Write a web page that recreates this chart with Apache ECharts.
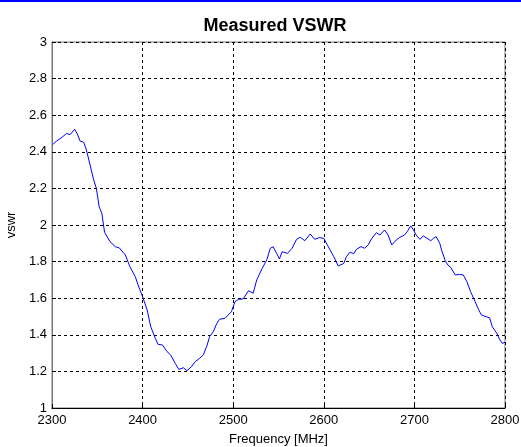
<!DOCTYPE html>
<html>
<head>
<meta charset="utf-8">
<script src="https://cdn.jsdelivr.net/npm/echarts@6/dist/echarts.min.js"></script>
<style>
  html, body { margin: 0; padding: 0; background: #fff; }
  #chart { width: 521px; height: 447px; }
</style>
</head>
<body>
<div id="chart"></div>
<script>
// frequency points (MHz)
var freq = [
  2301,2305,2311,2316,2320,2325,2328,2331,2335,2338,
  2342,2346,2349,2352,2355,2358,2364,2370,2374,2381,
  2386,2392,2395,2400,2405,2409,2414,2417,2422,2427,
  2431,2436,2440,2445,2449,2454,2458,2463,2467,2471,
  2474,2478,2482,2485,2491,2498,2502,2506,2511,2517,
  2522,2526,2532,2537,2541,2544,2548,2551,2554,2556,
  2560,2565,2570,2574,2579,2585,2590,2595,2600,2605,
  2611,2616,2622,2625,2629,2633,2636,2641,2645,2649,
  2653,2658,2662,2667,2671,2675,2680,2684,2689,2692,
  2696,2699,2702,2706,2710,2714,2718,2721,2724,2728,
  2730,2734,2737,2740,2745,2750,2754,2758,2762,2767,
  2771,2774,2779,2783,2786,2791,2794,2797,2800
];
// measured vswr at each frequency
var vswr = [
  2.441,2.459,2.479,2.50,2.494,2.523,2.497,2.459,2.452,2.41,
  2.328,2.246,2.20,2.10,2.064,1.96,1.909,1.881,1.876,1.836,
  1.772,1.717,1.672,1.608,1.536,1.444,1.381,1.348,1.344,1.308,
  1.29,1.244,1.211,1.22,1.204,1.226,1.253,1.272,1.29,1.34,
  1.39,1.417,1.463,1.485,1.49,1.526,1.581,1.594,1.596,1.641,
  1.627,1.70,1.763,1.809,1.873,1.881,1.845,1.814,1.854,1.863,
  1.845,1.873,1.922,1.933,1.914,1.951,1.922,1.931,1.927,1.881,
  1.827,1.776,1.79,1.827,1.852,1.843,1.867,1.882,1.873,1.891,
  1.927,1.958,1.945,1.973,1.945,1.891,1.918,1.933,1.945,1.963,
  1.995,1.973,1.945,1.922,1.94,1.927,1.914,1.927,1.936,1.90,
  1.863,1.805,1.781,1.769,1.727,1.730,1.727,1.69,1.636,1.581,
  1.536,1.508,1.499,1.493,1.444,1.408,1.375,1.353,1.359
];

var lineData = [];
for (var i = 0; i < freq.length; i++) {
  lineData.push([freq[i], vswr[i]]);
}

var font = 'Arial, "Liberation Sans", sans-serif';
var chart = echarts.init(document.getElementById('chart'));
chart.setOption({
  backgroundColor: '#fff',
  animation: false,
  title: {
    text: 'Measured VSWR',
    left: 270,
    textAlign: 'center',
    top: 12,
    textStyle: { fontFamily: font, fontSize: 18, fontWeight: 'bold', color: '#000' }
  },
  graphic: [{
    type: 'rect',
    shape: { x: 0, y: 0, width: 521, height: 2 },
    style: { fill: '#0000ff' }
  }],
  grid: {
    left: 52, right: 16, top: 42, bottom: 39,
    containLabel: false,
    outerBoundsMode: 'none',
    show: true,
    borderColor: '#777',
    borderWidth: 1,
    backgroundColor: '#fff'
  },
  xAxis: {
    type: 'value',
    min: 2300, max: 2800, interval: 100,
    name: 'Frequency [MHz]',
    nameLocation: 'middle',
    nameGap: 25,
    nameTextStyle: { fontFamily: font, fontSize: 13, color: '#000' },
    axisLine: { lineStyle: { color: '#000', width: 1 } },
    axisTick: { inside: true, length: 4, lineStyle: { color: '#000' } },
    axisLabel: {
      fontFamily: font, fontSize: 13, color: '#000', margin: 6,
      formatter: function (v) { return String(v); }
    },
    splitLine: { show: true, lineStyle: { color: '#000', type: [3, 3], width: 1 } }
  },
  yAxis: {
    type: 'value',
    min: 1, max: 3, interval: 0.2,
    name: 'vswr',
    nameLocation: 'middle',
    nameGap: 31,
    nameTextStyle: { fontFamily: font, fontSize: 13, color: '#000' },
    axisLine: { show: true, lineStyle: { color: '#777', width: 1 } },
    axisTick: { show: true, inside: true, length: 4, lineStyle: { color: '#000' } },
    axisLabel: { fontFamily: font, fontSize: 13, color: '#000', margin: 5 },
    splitLine: { show: true, lineStyle: { color: '#000', type: [3, 3], width: 1 } }
  },
  series: [{
    type: 'line',
    data: lineData,
    showSymbol: false,
    lineStyle: { color: '#0000ff', width: 1 },
    itemStyle: { color: '#0000ff' }
  }]
});
</script>
</body>
</html>
